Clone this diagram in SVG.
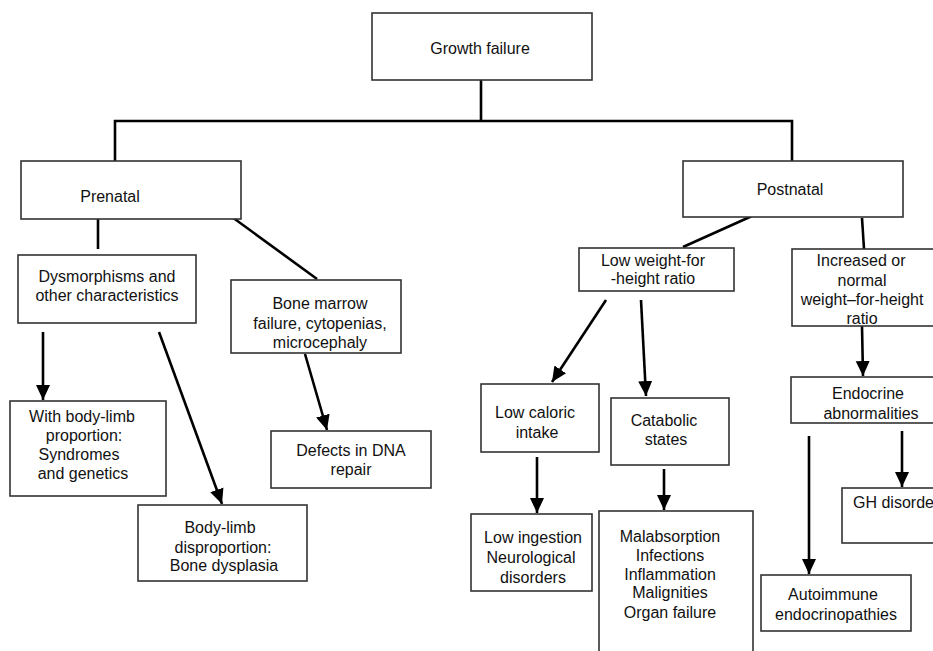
<svg xmlns="http://www.w3.org/2000/svg" width="933" height="651" viewBox="0 0 933 651">
<style>
.box{fill:#fff;stroke:#333;stroke-width:1.6}
.t{font-family:"Liberation Sans",Arial,sans-serif;font-size:16px;fill:#111;text-anchor:middle}
.c{stroke:#000;stroke-width:2.6;fill:none}
</style>
<defs>
<marker id="ah" markerUnits="userSpaceOnUse" markerWidth="16" markerHeight="16" viewBox="0 0 16 16" refX="15" refY="8" orient="auto">
<path d="M0,1 L15,8 L0,15 Z" fill="#000"/>
</marker>
</defs>
<rect width="933" height="651" fill="#fff"/>
<g id="connectors">
<line class="c" x1="481" y1="80" x2="481" y2="121"/>
<polyline class="c" points="115,161 115,121 792,121 792,161"/>
<line class="c" x1="98" y1="219" x2="98" y2="249"/>
<line class="c" x1="232" y1="217" x2="317" y2="279"/>
<line class="c" x1="752" y1="216" x2="683" y2="247"/>
<line class="c" x1="862" y1="218" x2="864" y2="249"/>
<line class="c" x1="43" y1="332" x2="43" y2="400" marker-end="url(#ah)"/>
<line class="c" x1="159" y1="332" x2="222" y2="504" marker-end="url(#ah)"/>
<line class="c" x1="305" y1="354" x2="327" y2="430" marker-end="url(#ah)"/>
<line class="c" x1="606" y1="300" x2="552" y2="382" marker-end="url(#ah)"/>
<line class="c" x1="641" y1="300" x2="646" y2="396" marker-end="url(#ah)"/>
<line class="c" x1="537" y1="457" x2="537" y2="513" marker-end="url(#ah)"/>
<line class="c" x1="664" y1="469" x2="664" y2="510" marker-end="url(#ah)"/>
<line class="c" x1="862" y1="326" x2="863" y2="376" marker-end="url(#ah)"/>
<line class="c" x1="902" y1="431" x2="902" y2="487" marker-end="url(#ah)"/>
<line class="c" x1="809" y1="436" x2="809" y2="574" marker-end="url(#ah)"/>
</g>
<g id="growth-failure">
<rect class="box" x="372" y="13" width="220" height="67"/>
<text class="t" x="480" y="54">Growth failure</text>
</g>
<g id="prenatal">
<rect class="box" x="21" y="161" width="220" height="58"/>
<text class="t" x="110" y="202">Prenatal</text>
</g>
<g id="postnatal">
<rect class="box" x="683" y="161" width="220" height="56"/>
<text class="t" x="790" y="195">Postnatal</text>
</g>
<g id="dysmorphisms">
<rect class="box" x="18" y="255" width="178" height="68"/>
<text class="t" x="107" y="282">Dysmorphisms and</text>
<text class="t" x="107" y="301">other characteristics</text>
</g>
<g id="bone-marrow">
<rect class="box" x="231" y="280" width="170" height="73"/>
<text class="t" x="320" y="309">Bone marrow</text>
<text class="t" x="320" y="329">failure, cytopenias,</text>
<text class="t" x="320" y="348">microcephaly</text>
</g>
<g id="with-body-limb">
<rect class="box" x="10" y="401" width="156" height="95"/>
<text class="t" x="82" y="422">With body-limb</text>
<text class="t" x="84" y="441">proportion:</text>
<text class="t" x="79" y="460">Syndromes</text>
<text class="t" x="83" y="479">and genetics</text>
</g>
<g id="body-limb-disproportion">
<rect class="box" x="138" y="505" width="169" height="76"/>
<text class="t" x="220" y="533">Body-limb</text>
<text class="t" x="223" y="553">disproportion:</text>
<text class="t" x="224" y="571">Bone dysplasia</text>
</g>
<g id="dna-repair">
<rect class="box" x="271" y="431" width="160" height="57"/>
<text class="t" x="351" y="456">Defects in DNA</text>
<text class="t" x="351" y="475">repair</text>
</g>
<g id="low-weight">
<rect class="box" x="579" y="248" width="155" height="43"/>
<text class="t" x="653" y="266">Low weight-for</text>
<text class="t" x="653" y="284">-height ratio</text>
</g>
<g id="increased-weight">
<rect class="box" x="792" y="249" width="145" height="77"/>
<text class="t" x="861" y="266">Increased or</text>
<text class="t" x="862" y="286">normal</text>
<text class="t" x="862" y="305">weight–for-height</text>
<text class="t" x="862" y="324">ratio</text>
</g>
<g id="low-caloric">
<rect class="box" x="481" y="384" width="118" height="68"/>
<text class="t" x="535" y="418">Low caloric</text>
<text class="t" x="537" y="438">intake</text>
</g>
<g id="catabolic">
<rect class="box" x="611" y="398" width="118" height="67"/>
<text class="t" x="664" y="426">Catabolic</text>
<text class="t" x="666" y="445">states</text>
</g>
<g id="low-ingestion">
<rect class="box" x="471" y="514" width="121" height="77"/>
<text class="t" x="533" y="543">Low ingestion</text>
<text class="t" x="531" y="563">Neurological</text>
<text class="t" x="533" y="583">disorders</text>
</g>
<g id="malabsorption">
<rect class="box" x="599" y="511" width="154" height="150"/>
<text class="t" x="670" y="542">Malabsorption</text>
<text class="t" x="670" y="561">Infections</text>
<text class="t" x="670" y="580">Inflammation</text>
<text class="t" x="670" y="598">Malignities</text>
<text class="t" x="670" y="618">Organ failure</text>
</g>
<g id="endocrine">
<rect class="box" x="791" y="377" width="145" height="46"/>
<text class="t" x="868" y="399">Endocrine</text>
<text class="t" x="871" y="419">abnormalities</text>
</g>
<g id="gh-disorders">
<rect class="box" x="842" y="488" width="100" height="55"/>
<text class="t" x="853" y="508" style="text-anchor:start">GH disorders</text>
</g>
<g id="autoimmune">
<rect class="box" x="761" y="575" width="150" height="56"/>
<text class="t" x="833" y="600">Autoimmune</text>
<text class="t" x="836" y="620">endocrinopathies</text>
</g>
</svg>
